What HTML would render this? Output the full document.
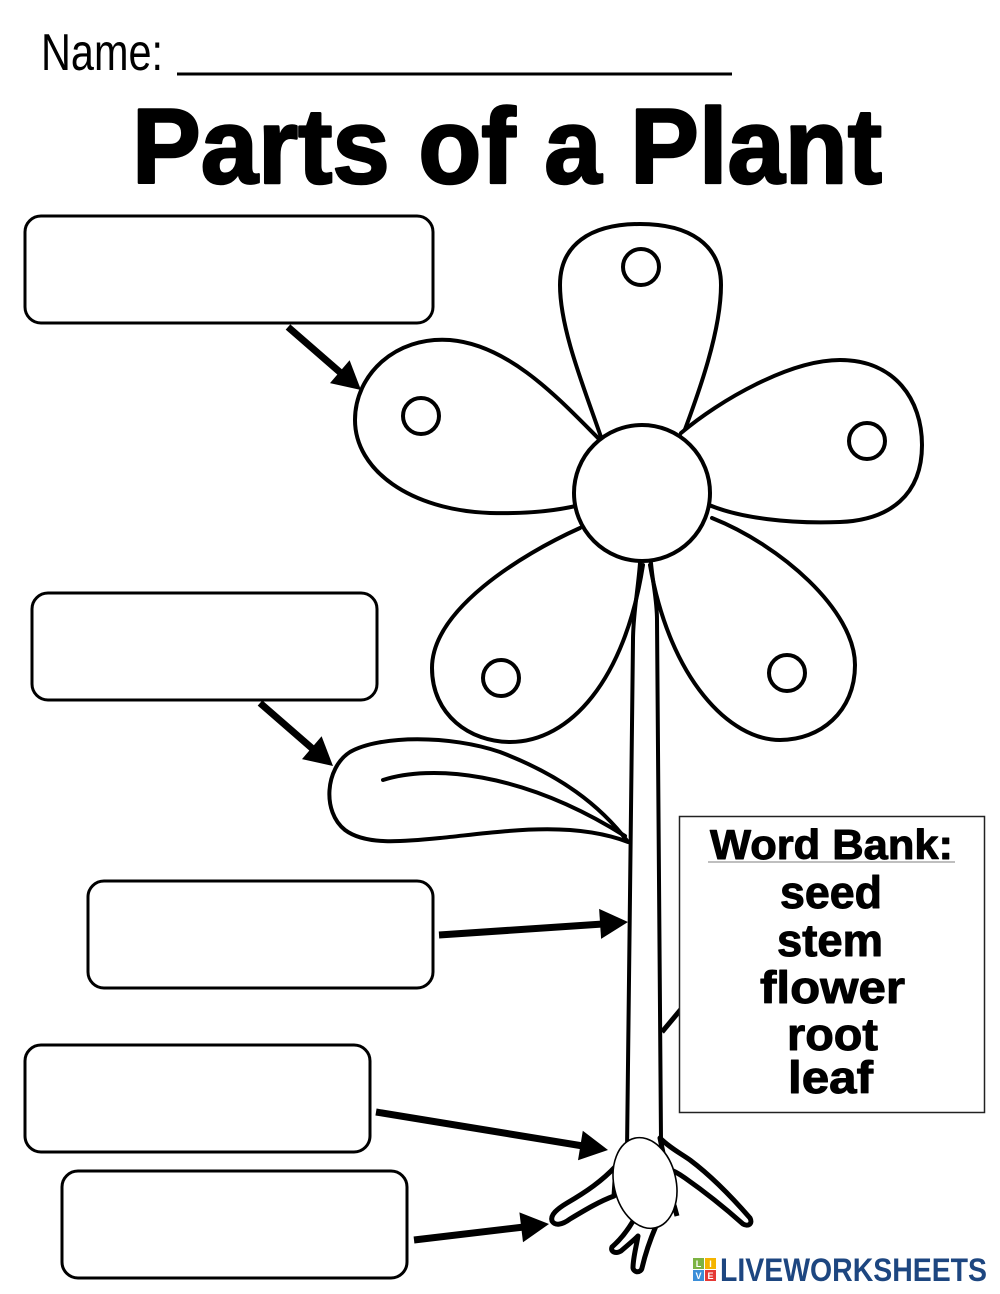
<!DOCTYPE html>
<html>
<head>
<meta charset="utf-8">
<style>
  html,body{margin:0;padding:0;background:#fff;}
  body{width:1000px;height:1294px;overflow:hidden;}
  svg{display:block;}
  text{font-family:"Liberation Sans", sans-serif;}
</style>
</head>
<body>
<svg width="1000" height="1294" viewBox="0 0 1000 1294" xmlns="http://www.w3.org/2000/svg">
  <rect x="0" y="0" width="1000" height="1294" fill="#fff"/>

  <!-- Header -->
  <text x="41" y="70" font-size="52" textLength="122" lengthAdjust="spacingAndGlyphs" fill="#000">Name:</text>
  <line x1="177" y1="74" x2="732" y2="74" stroke="#000" stroke-width="3"/>
  <text x="132" y="183" font-size="107" font-weight="bold" textLength="750" lengthAdjust="spacingAndGlyphs" fill="#000" stroke="#000" stroke-width="2.5" stroke-linejoin="round">Parts of a Plant</text>

  <!-- Label boxes -->
  <g fill="#fff" stroke="#000" stroke-width="3">
    <rect x="25" y="216" width="408" height="107" rx="16"/>
    <rect x="32" y="593" width="345" height="107" rx="16"/>
    <rect x="88" y="881" width="345" height="107" rx="16"/>
    <rect x="25" y="1045" width="345" height="107" rx="16"/>
    <rect x="62" y="1171" width="345" height="107" rx="16"/>
  </g>

  <!-- Flower -->
  <g fill="#fff" stroke="#000" stroke-width="4" stroke-linejoin="round" stroke-linecap="round">
    <path d="M602,440 C585,390 560,330 560,285 C560,245 590,224 640,224 C690,224 721,245 721,285 C721,330 700,390 681,440"/>
    <path d="M600,440 C560,400 510,345 450,340 C395,336 355,375 355,420 C355,470 410,510 490,513 C530,514 560,510 580,505"/>
    <path d="M681,433 C720,400 790,360 840,360 C895,360 922,400 922,445 C922,495 890,520 840,522 C790,524 740,518 709,505"/>
    <path d="M580,528 C520,555 432,610 432,668 C432,715 470,742 510,742 C570,742 625,680 643,565"/>
    <path d="M712,518 C780,545 855,610 855,665 C855,712 820,740 780,740 C730,740 670,680 650,565"/>
    <circle cx="642" cy="493" r="68"/>
    <circle cx="641" cy="267" r="18"/>
    <circle cx="421" cy="416" r="18"/>
    <circle cx="867" cy="441" r="18"/>
    <circle cx="501" cy="678" r="18"/>
    <circle cx="787" cy="673" r="18"/>
  </g>

  <!-- Stem -->
  <g fill="none" stroke="#000" stroke-width="4" stroke-linecap="round">
    <path d="M640,563 C638,590 633,615 633,640 L627,1150"/>
    <path d="M651,563 C653,585 657,600 657,620 L661,1140"/>
  </g>

  <!-- Leaf -->
  <path d="M628,842 C600,805 560,775 500,752 C450,735 380,735 350,752 C325,768 322,812 345,830 C365,845 400,842 440,838 C500,832 570,820 628,842 Z" fill="#fff" stroke="#000" stroke-width="4" stroke-linejoin="round"/>
  <path d="M383,780 C430,765 520,770 625,836" fill="none" stroke="#000" stroke-width="4" stroke-linecap="round"/>

  <!-- hidden branch behind word bank -->
  <line x1="662" y1="1032" x2="692" y2="996" stroke="#000" stroke-width="5"/>

  <!-- Roots -->
  <g fill="#fff" stroke="#000" stroke-width="5" stroke-linejoin="round">
    <path d="M660,1138 C670,1148 680,1153 690,1160 C710,1175 730,1195 750,1218 C753,1224 748,1227 743,1224 C725,1208 705,1192 685,1178 C678,1173 672,1170 666,1168 Z"/>
    <path d="M616,1166 C602,1181 586,1192 567,1203 C557,1209 550,1215 552,1221 C555,1226 562,1225 570,1219 C585,1210 600,1201 614,1196 Z"/>
    <path d="M638,1212 C630,1228 620,1240 612,1247 C610,1252 616,1254 621,1251 C628,1245 634,1240 638,1236 C636,1248 633,1258 633,1268 C634,1273 641,1273 642,1268 C645,1255 650,1240 656,1226 Z"/>
  </g>
  <line x1="674" y1="1205" x2="677" y2="1216" stroke="#000" stroke-width="5"/>
  <!-- Seed -->
  <ellipse cx="645" cy="1183" rx="31" ry="46" transform="rotate(-13 645 1183)" fill="#fff" stroke="#000" stroke-width="1.6"/>

  <!-- Arrows -->
  <g stroke="#000" stroke-width="7">
    <line x1="288" y1="327" x2="342" y2="374"/>
    <line x1="260" y1="703" x2="314" y2="750"/>
    <line x1="439" y1="935" x2="603" y2="924"/>
    <line x1="376" y1="1112" x2="583" y2="1146"/>
    <line x1="414" y1="1240" x2="524" y2="1227"/>
  </g>
  <g fill="#000">
    <polygon points="361,390 330.0,383.1 349.6,360.3"/>
    <polygon points="333,766 302.0,759.1 321.6,736.3"/>
    <polygon points="628,922 601.1,938.9 599.1,908.9"/>
    <polygon points="608,1150 578.0,1160.3 582.8,1130.7"/>
    <polygon points="549,1224 523.0,1242.2 519.4,1212.4"/>
  </g>

  <!-- Word bank -->
  <rect x="679.5" y="816.5" width="305" height="296" fill="#fff" stroke="#222" stroke-width="1.5"/>
  <line x1="708" y1="862" x2="955" y2="862" stroke="#aaa" stroke-width="1.5"/>
  <g font-weight="bold" fill="#000" stroke="#000" stroke-width="1" stroke-linejoin="round">
    <text x="710" y="859" font-size="42" textLength="243" lengthAdjust="spacingAndGlyphs">Word Bank:</text>
    <text x="780" y="908" font-size="45" textLength="102" lengthAdjust="spacingAndGlyphs">seed</text>
    <text x="777" y="956" font-size="45" textLength="106" lengthAdjust="spacingAndGlyphs">stem</text>
    <text x="760" y="1003" font-size="45" textLength="145" lengthAdjust="spacingAndGlyphs">flower</text>
    <text x="787" y="1050" font-size="45" textLength="91" lengthAdjust="spacingAndGlyphs">root</text>
    <text x="788" y="1093" font-size="45" textLength="85" lengthAdjust="spacingAndGlyphs">leaf</text>
  </g>

  <!-- Liveworksheets logo -->
  <g>
    <rect x="693" y="1258" width="11" height="11" fill="#7cb342"/>
    <rect x="705" y="1258" width="11" height="11" fill="#f4b400"/>
    <rect x="693" y="1270" width="11" height="11" fill="#3b8ed8"/>
    <rect x="705" y="1270" width="11" height="11" fill="#e53935"/>
    <g font-size="9" font-weight="bold" fill="#fff" text-anchor="middle">
      <text x="698.5" y="1267">L</text>
      <text x="710.5" y="1267">I</text>
      <text x="698.5" y="1279">V</text>
      <text x="710.5" y="1279">E</text>
    </g>
    <text x="720" y="1281" font-size="32" font-weight="bold" fill="#1d4680" textLength="267" lengthAdjust="spacingAndGlyphs">LIVEWORKSHEETS</text>
  </g>
</svg>
</body>
</html>
